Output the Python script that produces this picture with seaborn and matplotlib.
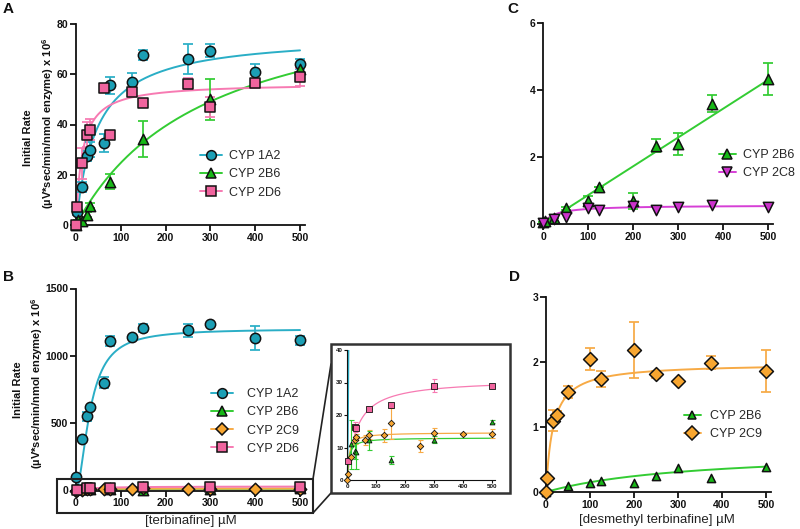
import numpy as np
import matplotlib
matplotlib.use("Agg")
import matplotlib.pyplot as plt
import seaborn as sns
from matplotlib.lines import Line2D
from matplotlib.patches import Rectangle

sns.set_theme(style="ticks")
plt.rcParams["font.family"] = ["Liberation Sans", "DejaVu Sans"]
plt.rcParams["mathtext.fontset"] = "custom"
plt.rcParams["mathtext.rm"] = "Liberation Sans"
plt.rcParams["mathtext.bf"] = "Liberation Sans:bold"

# colours (marker fill, line)
TEAL, TEAL_L = "#1b9fb5", "#2aaec6"
GREEN, GREEN_L = "#17b817", "#33cc33"
PINK, PINK_L = "#f0649e", "#f77ab2"
ORANGE, ORANGE_L = "#f8a630", "#f7aa45"
MAGENTA, MAGENTA_L = "#cc33cc", "#d63fd6"
INK = "#111111"

# ---------------- data ----------------
# A: terbinafine, full range
a_x_1a2 = [3, 12.5, 25, 31.25, 62.5, 75, 125, 150, 250, 300, 400, 500]
a_y_1a2 = [5, 15.3, 27.3, 30, 32.7, 55.6, 57, 67.6, 66, 69.4, 61, 64]
a_e_1a2 = [1, 2, 2, 3, 3.5, 3.5, 3.5, 2, 6, 2.5, 3, 2]
a_x_2b6 = [0, 5, 12.5, 25, 31.25, 75, 150, 300, 500]
a_y_2b6 = [0, 2, 1.5, 4, 7.7, 17.2, 34.3, 50, 62]
a_e_2b6 = [0, 0, 0, 1, 1, 3, 7.2, 8.3, 1.5]
a_x_2d6 = [0, 3.125, 12.5, 25, 31.25, 62.5, 75, 125, 150, 250, 300, 400, 500]
a_y_2d6 = [0, 7, 24.5, 36, 38, 54.4, 36, 52.8, 48.4, 56.1, 47, 56.7, 58.8]
a_e_2d6 = [0, 0, 6, 5, 4, 0, 0, 0, 0, 2.5, 4, 0, 3.5]
a_fit_1a2 = (75.9, 46)      # Vmax, Km
a_fit_2b6 = (97, 292)
a_fit_2d6 = (56.5, 14)

# B: terbinafine, four enzymes
b_x_1a2 = [1, 12.5, 25, 31.25, 62.5, 75, 125, 150, 250, 300, 400, 500]
b_y_1a2 = [100, 380, 550, 620, 800, 1110, 1140, 1210, 1190, 1235, 1130, 1115]
b_e_1a2 = [0, 0, 35, 0, 40, 35, 0, 30, 50, 0, 90, 35]
b_x_2b6 = [12.5, 25, 31.25, 75, 150, 300, 500]
b_y_2b6 = [11, 9, 8.5, 12.2, 6.2, 12.4, 17.9]
b_e_2b6 = [7.5, 2.5, 5, 3, 1.2, 1, 0.5]
b_x_2c9 = [0, 3.125, 12.5, 25, 31.25, 62.5, 75, 125, 150, 250, 300, 400, 500]
b_y_2c9 = [0, 1.9, 7, 12.2, 13.3, 12.4, 14, 13.8, 17.4, 10.4, 14.5, 14.3, 14.3]
b_e_2c9 = [0, 0, 0, 1, 1, 1.5, 1.5, 2, 4.7, 1.8, 1.5, 0, 1.5]
b_x_2d6 = [3.125, 25, 31.25, 75, 150, 300, 500]
b_y_2d6 = [5.8, 16.2, 16, 21.8, 23, 29, 28.8]
b_e_2d6 = [0, 1.5, 1, 0, 0, 2, 0]
b_fit_1a2 = (1200, 32, 1.8)  # Vmax, K, Hill n
b_fit_2b6 = (13, 6)
b_fit_2c9 = (14.6, 6)
b_fit_2d6 = (31, 32)

# C: terbinafine, 2B6 / 2C8
c_x_2b6 = [0, 5, 25, 50, 100, 125, 200, 250, 300, 375, 500]
c_y_2b6 = [0.05, 0.1, 0.17, 0.47, 0.7, 1.09, 0.69, 2.34, 2.39, 3.59, 4.34]
c_e_2b6 = [0, 0, 0, 0.05, 0.13, 0, 0.25, 0.2, 0.32, 0.26, 0.48]
c_x_2c8 = [0, 25, 50, 100, 125, 200, 250, 300, 375, 500]
c_y_2c8 = [0.03, 0.15, 0.22, 0.47, 0.42, 0.55, 0.42, 0.5, 0.57, 0.52]
c_fit_2b6 = 0.0086           # slope
c_fit_2c8 = (0.56, 25)

# D: desmethyl terbinafine
d_x_2c9 = [0, 3.125, 15, 25, 50, 100, 125, 200, 250, 300, 375, 500]
d_y_2c9 = [0, 0.21, 1.1, 1.19, 1.54, 2.05, 1.74, 2.18, 1.81, 1.71, 1.99, 1.86]
d_e_2c9 = [0, 0, 0.16, 0.06, 0.09, 0.17, 0.12, 0.43, 0.05, 0, 0.1, 0.32]
d_x_2b6 = [0, 50, 100, 125, 200, 250, 300, 375, 500]
d_y_2b6 = [0, 0.09, 0.14, 0.17, 0.14, 0.24, 0.37, 0.21, 0.38]
d_fit_2c9 = (1.98, 16)
d_fit_2b6 = (0.65, 333)

grid = np.linspace(0, 500, 600)


def mm(x, vmax, km, n=1.0):
    return vmax * x ** n / (km ** n + x ** n)


W, H = 800, 529
fig = plt.figure(figsize=(8, 5.29), dpi=100)


def px_axes(l, r, t, b):
    return fig.add_axes([l / W, 1 - b / H, (r - l) / W, (b - t) / H])


def style(ax, xlim, ylim, yticks, lw=1.3, fs=7.5, tl=4):
    ax.set_xlim(*xlim)
    ax.set_ylim(*ylim)
    ax.spines[["top", "right"]].set_visible(False)
    ax.spines["left"].set_position(("data", 0))
    for s in ["left", "bottom"]:
        ax.spines[s].set_linewidth(lw)
        ax.spines[s].set_color(INK)
    ax.set_xticks(range(0, 501, 100))
    ax.set_yticks(yticks)
    ax.tick_params(length=tl, width=lw, labelsize=fs, pad=1.5, colors=INK)
    for lab in ax.get_xticklabels() + ax.get_yticklabels():
        lab.set_fontweight("bold")
    ax.set_xlabel("")
    ax.set_ylabel("")
    ax.patch.set_alpha(0)


def series(ax, x, y, err, fy, fill, line, marker, s=55, lw=1.4, cap=3.5, ew=1.1):
    sns.lineplot(x=grid, y=fy, ax=ax, color=line, lw=lw, zorder=2)
    if err is not None:
        ax.errorbar(x, y, yerr=err, fmt="none", ecolor=line, elinewidth=lw * 0.9,
                    capsize=cap, capthick=lw * 0.9, zorder=3, clip_on=False)
    sns.scatterplot(x=x, y=y, ax=ax, marker=marker, s=s, color=fill,
                    edgecolor=INK, linewidth=ew, zorder=4, clip_on=False)


def handle(fill, line, marker, ms=7):
    return Line2D([0], [0], color=line, lw=1.4, marker=marker, markersize=ms,
                  markerfacecolor=fill, markeredgecolor=INK, markeredgewidth=1.1)


def legend(ax, handles, labels, x, y, hl, pad):
    ax.legend(handles, labels, loc="upper left", bbox_to_anchor=(x / W, 1 - y / H),
              bbox_transform=fig.transFigure, frameon=False, fontsize=9,
              handlelength=hl, handletextpad=pad, labelspacing=0.5,
              borderpad=0, borderaxespad=0)


# ---------------- A ----------------
axA = px_axes(71.5, 305.4, 24, 225)
series(axA, a_x_1a2, a_y_1a2, a_e_1a2, mm(grid, *a_fit_1a2), TEAL, TEAL_L, "o")
series(axA, a_x_2b6, a_y_2b6, a_e_2b6, mm(grid, *a_fit_2b6), GREEN, GREEN_L, "^")
series(axA, a_x_2d6, a_y_2d6, a_e_2d6, mm(grid, *a_fit_2d6), PINK, PINK_L, "s", s=50)
style(axA, (-10, 512), (0, 80), range(0, 81, 20))
legend(axA, [handle(TEAL, TEAL_L, "o"), handle(GREEN, GREEN_L, "^"), handle(PINK, PINK_L, "s")],
       ["CYP 1A2", "CYP 2B6", "CYP 2D6"], 200, 150, 1.75, 0.6)

# ---------------- B ----------------
axB = px_axes(71.5, 305.4, 288.5, 490.5)
series(axB, b_x_1a2, b_y_1a2, b_e_1a2, mm(grid, *b_fit_1a2), TEAL, TEAL_L, "o")
series(axB, b_x_2b6, b_y_2b6, None, mm(grid, *b_fit_2b6), GREEN, GREEN_L, "^")
series(axB, b_x_2c9, b_y_2c9, None, mm(grid, *b_fit_2c9), ORANGE, ORANGE_L, "D", s=40)
series(axB, b_x_2d6, b_y_2d6, None, mm(grid, *b_fit_2d6), PINK, PINK_L, "s", s=50)
style(axB, (-10, 512), (0, 1500), range(0, 1501, 500))
legend(axB, [handle(TEAL, TEAL_L, "o"), handle(GREEN, GREEN_L, "^"),
             handle(ORANGE, ORANGE_L, "D", 6), handle(PINK, PINK_L, "s")],
       ["CYP 1A2", "CYP 2B6", "CYP 2C9", "CYP 2D6"], 211, 388, 1.75, 1.1)
fig.text(191 / W, 1 - 521 / H, "[terbinafine] \u00b5M", ha="center", va="center",
         fontsize=9.5, color="#222")

# inset of B
axI = px_axes(346.1, 495.2, 350, 480)
series(axI, b_x_2d6, b_y_2d6, b_e_2d6, mm(grid, *b_fit_2d6), PINK, PINK_L, "s",
       s=14, lw=0.9, cap=1.8, ew=0.6)
series(axI, b_x_2c9, b_y_2c9, b_e_2c9, mm(grid, *b_fit_2c9), ORANGE, ORANGE_L, "D",
       s=11, lw=0.9, cap=1.8, ew=0.6)
series(axI, b_x_2b6, b_y_2b6, b_e_2b6, mm(grid, *b_fit_2b6), GREEN, GREEN_L, "^",
       s=12, lw=0.9, cap=1.8, ew=0.6)
sns.lineplot(x=grid, y=mm(grid, *b_fit_1a2), ax=axI, color=TEAL_L, lw=1.0, zorder=1)
style(axI, (-4, 510), (0, 40), range(0, 41, 10), lw=0.8, fs=4.5, tl=2)
axI.tick_params(pad=1)

# box around the compressed region of B and the zoom connectors
fig.patches.append(Rectangle((57 / W, 1 - 513 / H), (313 - 57) / W, (513 - 479) / H,
                             transform=fig.transFigure, fill=False, lw=1.5, ec="#222", zorder=5))
fig.patches.append(Rectangle((331 / W, 1 - 493 / H), (510 - 331) / W, (493 - 344) / H,
                             transform=fig.transFigure, fill=False, lw=1.8, ec="#333", zorder=5))
for (x0, y0), (x1, y1) in [((313, 479), (331, 364)), ((313, 513), (331, 493))]:
    fig.lines.append(Line2D([x0 / W, x1 / W], [1 - y0 / H, 1 - y1 / H],
                            transform=fig.transFigure, color="#222", lw=1.2))

# ---------------- C ----------------
axC = px_axes(540.75, 773, 23, 224)
series(axC, c_x_2b6, c_y_2b6, c_e_2b6, c_fit_2b6 * grid, GREEN, GREEN_L, "^")
series(axC, c_x_2c8, c_y_2c8, None, mm(grid, *c_fit_2c8), MAGENTA, MAGENTA_L, "v")
style(axC, (-5, 511), (0, 6), range(0, 7, 2))
legend(axC, [handle(GREEN, GREEN_L, "^"), handle(MAGENTA, MAGENTA_L, "v")],
       ["CYP 2B6", "CYP 2C8"], 719, 149, 1.35, 0.6)

# ---------------- D ----------------
axD = px_axes(543.8, 770.8, 297, 492)
series(axD, d_x_2b6, d_y_2b6, None, mm(grid, *d_fit_2b6), GREEN, GREEN_L, "^", s=35)
series(axD, d_x_2c9, d_y_2c9, d_e_2c9, mm(grid, *d_fit_2c9), ORANGE, ORANGE_L, "D", s=50)
style(axD, (-5, 511), (0, 3), range(0, 4, 1))
legend(axD, [handle(GREEN, GREEN_L, "^", 6), handle(ORANGE, ORANGE_L, "D", 7)],
       ["CYP 2B6", "CYP 2C9"], 684, 410, 1.35, 0.7)
fig.text(657 / W, 1 - 520 / H, "[desmethyl terbinafine] \u00b5M", ha="center", va="center",
         fontsize=9.5, color="#222")

# ---------------- y labels and panel letters ----------------
for (x1, y1), (x2, y2) in [((28, 138), (48, 123)), ((18, 390), (37, 383))]:
    fig.text(x1 / W, 1 - y1 / H, "Initial Rate", rotation=90, ha="center", va="center",
             fontsize=8, fontweight="bold", color=INK)
    fig.text(x2 / W, 1 - y2 / H, "(\u00b5V*sec/min/nmol enzyme) x 10$^{\\mathbf{6}}$",
             rotation=90, ha="center", va="center", fontsize=8, fontweight="bold", color=INK)

for letter, x, y in [("A", 8, 9), ("B", 8, 277), ("C", 513, 9), ("D", 515, 277)]:
    fig.text(x / W, 1 - y / H, letter, ha="center", va="center", fontsize=11,
             fontweight="bold", color=INK)

fig.savefig("out.png", dpi=100)
